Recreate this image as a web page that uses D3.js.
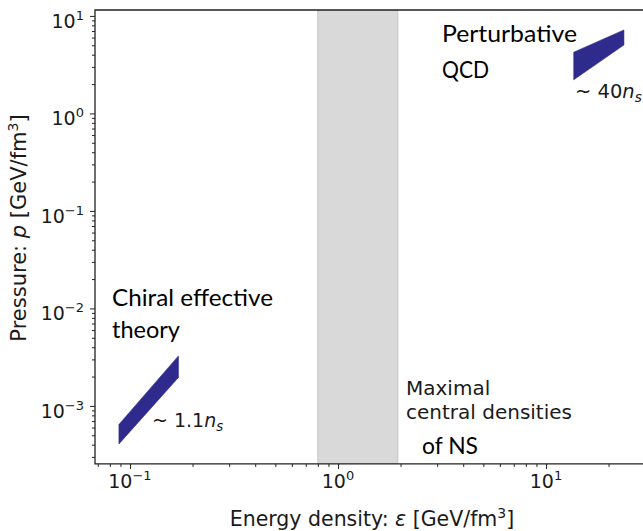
<!DOCTYPE html>
<html>
<head>
<meta charset="utf-8">
<script src="https://cdn.jsdelivr.net/npm/d3@7"></script>
<style>
body { margin: 0; background: #fff; }
svg { display: block; }
text { font-family: "DejaVu Sans", sans-serif; fill: #1a1a1a; }
.note { font-family: Lato, "Open Sans", sans-serif; fill: #000; }
</style>
</head>
<body>
<svg id="chart" width="643" height="531"></svg>
<script>
/* Exponents of the labelled decades */
var xTickExps = [-1, 0, 1];
var yTickExps = [-3, -2, -1, 0, 1];

/* Chiral effective theory band (energy density, pressure low / high) */
var chiralEps = [0.0885, 0.171];
var chiralLow = [4.07e-4, 1.96e-3];
var chiralHigh = [6.46e-4, 3.26e-3];

/* Perturbative QCD band */
var pqcdEps = [13.6, 23.7];
var pqcdLow = [2.21, 5.04];
var pqcdHigh = [4.25, 7.18];

/* Maximal central densities of neutron stars */
var nsRange = [0.8, 1.94];

var margin = {left: 95, top: 10};
var xDomain = [0.0679, 35.3];
var yDomain = [2.54e-4, 11.5];
var decadeX = 208, decadeY = 97.5;
var width = decadeX * Math.log10(xDomain[1] / xDomain[0]);
var height = decadeY * Math.log10(yDomain[1] / yDomain[0]);

var x = d3.scaleLog().domain(xDomain).range([margin.left, margin.left + width]);
var y = d3.scaleLog().domain(yDomain).range([margin.top + height, margin.top]);

var svg = d3.select("#chart");

svg.append("clipPath").attr("id", "plot-clip")
    .append("rect")
    .attr("x", margin.left).attr("y", margin.top)
    .attr("width", width).attr("height", height);

var plot = svg.append("g").attr("clip-path", "url(#plot-clip)");

// grey band for NS central densities
plot.append("rect")
    .attr("x", x(nsRange[0]))
    .attr("y", margin.top)
    .attr("width", x(nsRange[1]) - x(nsRange[0]))
    .attr("height", height)
    .attr("fill", "#d9d9d9")
    .attr("stroke", "#c4c4c4")
    .attr("stroke-width", 1);

// the two bands
var band = d3.area()
    .x(function(d) { return x(d.eps); })
    .y0(function(d) { return y(d.low); })
    .y1(function(d) { return y(d.high); });

function bandRows(eps, low, high) {
    return eps.map(function(e, i) { return {eps: e, low: low[i], high: high[i]}; });
}

plot.append("path")
    .datum(bandRows(chiralEps, chiralLow, chiralHigh))
    .attr("d", band)
    .attr("fill", "#2e2b8c")
    .attr("stroke", "#2e2b8c")
    .attr("stroke-width", 0.6);

plot.append("path")
    .datum(bandRows(pqcdEps, pqcdLow, pqcdHigh))
    .attr("d", band)
    .attr("fill", "#2e2b8c")
    .attr("stroke", "#2e2b8c")
    .attr("stroke-width", 0.6);

// minor tick values
function minorTicks(domain) {
    var out = [];
    for (var e = Math.floor(Math.log10(domain[0])); e <= Math.ceil(Math.log10(domain[1])); e++) {
        for (var k = 2; k <= 9; k++) {
            var v = k * Math.pow(10, e);
            if (v >= domain[0] && v <= domain[1]) out.push(v);
        }
    }
    return out;
}

var axisColor = "#222";

// minor ticks
svg.append("g")
    .attr("transform", "translate(0," + (margin.top + height) + ")")
    .call(d3.axisBottom(x).tickValues(minorTicks(xDomain)).tickSize(3).tickFormat(""))
    .call(function(g) { g.select(".domain").remove(); g.selectAll("line").attr("stroke", axisColor); });

svg.append("g")
    .attr("transform", "translate(" + margin.left + ",0)")
    .call(d3.axisLeft(y).tickValues(minorTicks(yDomain)).tickSize(3).tickFormat(""))
    .call(function(g) { g.select(".domain").remove(); g.selectAll("line").attr("stroke", axisColor); });

// major ticks
var xAxis = svg.append("g")
    .attr("transform", "translate(0," + (margin.top + height) + ")")
    .call(d3.axisBottom(x).tickValues(xTickExps.map(function(e) { return Math.pow(10, e); })).tickSize(5).tickFormat(""));
xAxis.select(".domain").remove();
xAxis.selectAll("line").attr("stroke", axisColor);

var yAxis = svg.append("g")
    .attr("transform", "translate(" + margin.left + ",0)")
    .call(d3.axisLeft(y).tickValues(yTickExps.map(function(e) { return Math.pow(10, e); })).tickSize(5).tickFormat(""));
yAxis.select(".domain").remove();
yAxis.selectAll("line").attr("stroke", axisColor);

function expText(e) { return e < 0 ? "\u2212" + (-e) : String(e); }

// x tick labels
xTickExps.forEach(function(e) {
    var t = svg.append("text")
        .attr("x", x(Math.pow(10, e)))
        .attr("y", 488)
        .attr("text-anchor", "middle")
        .attr("font-size", 19);
    t.append("tspan").text("10");
    t.append("tspan").attr("dy", -8).attr("font-size", 13).text(expText(e));
});

// y tick labels
yTickExps.forEach(function(e) {
    var t = svg.append("text")
        .attr("x", 84)
        .attr("y", y(Math.pow(10, e)) + 12)
        .attr("text-anchor", "end")
        .attr("font-size", 19);
    t.append("tspan").text("10");
    t.append("tspan").attr("dy", -8).attr("font-size", 13).text(expText(e));
});

// spines: left, bottom, top
svg.append("path")
    .attr("d", "M" + (margin.left + width) + "," + margin.top +
        "H" + margin.left + "V" + (margin.top + height) + "H" + (margin.left + width))
    .attr("fill", "none")
    .attr("stroke", axisColor)
    .attr("stroke-width", 1.3);

// axis labels
var xl = svg.append("text")
    .attr("x", 372).attr("y", 526)
    .attr("text-anchor", "middle")
    .attr("font-size", 20.5);
xl.append("tspan").text("Energy density: ");
xl.append("tspan").attr("font-style", "italic").text("\u03b5");
xl.append("tspan").text(" [GeV/fm");
xl.append("tspan").attr("dy", -8).attr("font-size", 14).text("3");
xl.append("tspan").attr("dy", 8).text("]");

var yl = svg.append("text")
    .attr("transform", "translate(26,228) rotate(-90)")
    .attr("text-anchor", "middle")
    .attr("font-size", 21);
yl.append("tspan").text("Pressure: ");
yl.append("tspan").attr("font-style", "italic").text("p");
yl.append("tspan").text(" [GeV/fm");
yl.append("tspan").attr("dy", -8).attr("font-size", 14).text("3");
yl.append("tspan").attr("dy", 8).text("]");

// annotations
function note(txt, px, py, len) {
    svg.append("text").attr("class", "note")
        .attr("x", px).attr("y", py)
        .attr("font-size", 24)
        .attr("textLength", len)
        .attr("lengthAdjust", "spacingAndGlyphs")
        .text(txt);
}
note("Perturbative", 442, 42, 135);
note("QCD", 442, 78, 47);
note("Chiral effective", 112, 306, 161);
note("theory", 112, 338, 68);
note("of NS", 422, 454, 56);

svg.append("text").attr("x", 406).attr("y", 395).attr("font-size", 20).text("Maximal");
svg.append("text").attr("x", 406).attr("y", 419).attr("font-size", 20).text("central densities");

function density(txt, px, py, size) {
    var t = svg.append("text").attr("x", px).attr("y", py).attr("font-size", size);
    t.append("tspan").text("~ " + txt);
    t.append("tspan").attr("font-style", "italic").text("n");
    t.append("tspan").attr("dy", 4).attr("font-size", size * 0.7).attr("font-style", "italic").text("s");
}
density("1.1", 152, 427, 19);
density("40", 575, 98, 19.5);
</script>
</body>
</html>
